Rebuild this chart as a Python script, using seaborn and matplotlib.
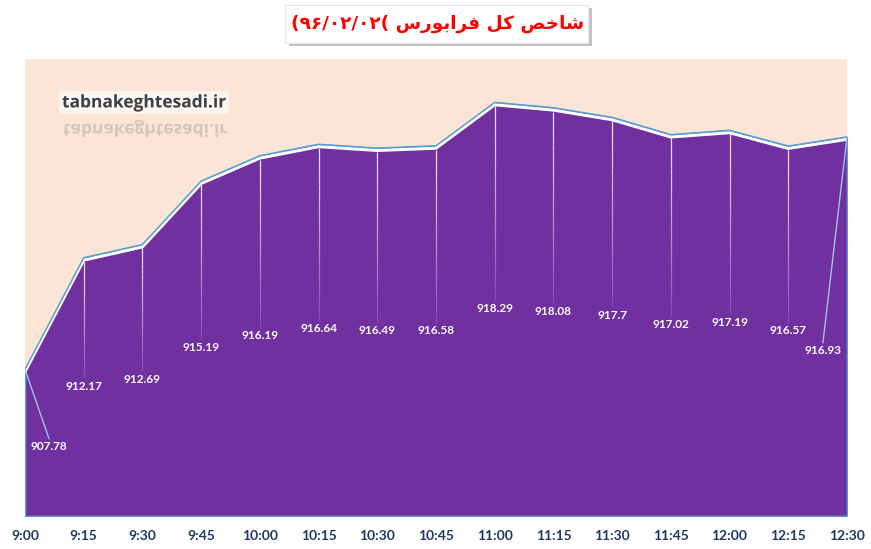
import numpy as np
import pandas as pd
import matplotlib
matplotlib.use("Agg")
import matplotlib.pyplot as plt
import matplotlib.patheffects as pe
import matplotlib.transforms as mtransforms
from matplotlib.patches import Rectangle, PathPatch
from matplotlib.textpath import TextPath
from matplotlib.font_manager import FontProperties
from matplotlib.collections import LineCollection
import seaborn as sns

# data
times = ["9:00", "9:15", "9:30", "9:45", "10:00", "10:15", "10:30", "10:45",
         "11:00", "11:15", "11:30", "11:45", "12:00", "12:15", "12:30"]
index_values = [907.78, 912.17, 912.69, 915.19, 916.19, 916.64, 916.49, 916.58,
                918.29, 918.08, 917.70, 917.02, 917.19, 916.57, 916.93]
value_labels = ["907.78", "912.17", "912.69", "915.19", "916.19", "916.64", "916.49", "916.58",
                "918.29", "918.08", "917.7", "917.02", "917.19", "916.57", "916.93"]

# label placement (layout only)
label_y = [904.72, 907.09, 907.36, 908.62, 909.10, 909.38, 909.30, 909.30,
           910.16, 910.04, 909.89, 909.53, 909.61, 909.30, 908.50]
label_dx = [0.41] + [0] * 13 + [-0.41]

# title, written in visual order with Arabic presentation forms
title_text = ("(\u06f9\u06f6/\u06f0\u06f2/\u06f0\u06f2( "
              "\ufeb1\ufead\ufeee\ufe91\ufe8d\ufeae\ufed3 "
              "\ufede\ufb90 "
              "\ufeba\ufea7\ufe8e\ufeb7")

df = pd.DataFrame({"x": np.arange(len(times)), "value": index_values})

purple = "#7030A0"
beige = "#FBE5D6"
blue = "#5B9BD5"
navy = "#1F3864"

sns.set_theme(style="white")
plt.rcParams["font.family"] = ["Lato", "DejaVu Sans"]

fig = plt.figure(figsize=(8.71, 5.49), dpi=100)
ax = fig.add_axes([25 / 871, 33 / 549, 822 / 871, 457 / 549])
ax.set_facecolor(beige)

ax.fill_between(df["x"], df["value"], 902, color=purple, edgecolor=blue, lw=1.2, zorder=2)
sns.lineplot(data=df, x="x", y="value", color=blue, lw=1.1, ax=ax, zorder=4)
shift = mtransforms.offset_copy(ax.transData, fig=fig, x=0, y=-1.7, units="points")
ax.plot(df["x"], df["value"], color="white", lw=2.2, transform=shift, zorder=3,
        solid_joinstyle="miter")

# leader lines and labels
for i, (v, ly, dx, lab) in enumerate(zip(index_values, label_y, label_dx, value_labels)):
    if dx == 0:
        top = v - 0.15
        bot = ly + 0.34
        ys = np.linspace(top, bot, 25)
        segs = [[(i, ys[k]), (i, ys[k + 1])] for k in range(len(ys) - 1)]
        alphas = np.linspace(0.9, 0.15, len(segs))
        cols = [(1, 1, 1, a) for a in alphas]
        ax.add_collection(LineCollection(segs, colors=cols, lw=0.9, zorder=5))
    else:
        ax.plot([i, i + dx], [v, ly + 0.32], color="#9DC3E6", lw=1.0, zorder=5)
    ax.text(i + dx, ly, lab, color="white", fontsize=8.5, fontweight="bold",
            ha="center", va="center", zorder=6)

ax.set_xlim(0, 14)
ax.set_ylim(902, 920)
ax.set_xticks(df["x"])
ax.set_xticklabels(times, fontsize=10, fontweight="bold", color=navy)
ax.set_yticks([])
ax.set_xlabel("")
ax.set_ylabel("")
ax.tick_params(axis="x", length=0, pad=10)
for s in ax.spines.values():
    s.set_visible(False)

# watermark and its reflection
ax.text(0.045, 0.905, "tabnakeghtesadi.ir", transform=ax.transAxes, fontsize=12.5,
        fontweight="bold", family=["Open Sans", "DejaVu Sans"], color="#404040",
        ha="left", va="center", zorder=7,
        bbox=dict(facecolor="white", edgecolor="none", alpha=0.55, pad=2),
        path_effects=[pe.withStroke(linewidth=3, foreground="white", alpha=0.6)])
fp = FontProperties(family="Open Sans", weight="bold", size=12.5)
tp = TextPath((0, 0), "tabnakeghtesadi.ir", prop=fp)
refl = mtransforms.Affine2D().scale(100 / 72, -100 / 72).translate(63, 549 - 124)
fig.patches.append(PathPatch(tp, transform=refl, facecolor="#a89f98", edgecolor="none",
                             alpha=0.45, zorder=8))

# title box with shadow
fig.patches.append(Rectangle((289 / 871, 503 / 549), 303 / 871, 38 / 549,
                             transform=fig.transFigure, facecolor="#9a9a9a",
                             edgecolor="none", alpha=0.6, zorder=1))
fig.patches.append(Rectangle((285 / 871, 506 / 549), 303 / 871, 38 / 549,
                             transform=fig.transFigure, facecolor="white",
                             edgecolor="#e6e6e6", lw=0.8, zorder=2))
fig.text(438 / 871, 525 / 549, title_text, color="red", fontsize=13.3,
         fontweight="bold", family=["DejaVu Sans"], ha="center", va="center", zorder=3)

fig.savefig("out.png", dpi=100)
